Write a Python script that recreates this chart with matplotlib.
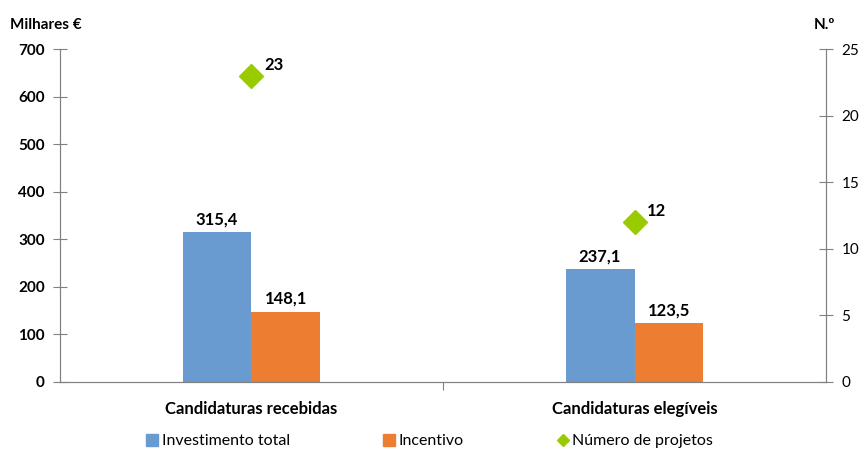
import matplotlib.pyplot as plt
import numpy as np
from matplotlib.lines import Line2D

# Data
categories = ['Candidaturas recebidas', 'Candidaturas elegíveis']
investimento = [315.4, 237.1]
incentivo = [148.1, 123.5]
projetos = [23, 12]

plt.rcParams['font.family'] = ['Lato', 'DejaVu Sans']

blue = '#6A9BD0'
orange = '#ED7D31'
green = '#99CC00'

fig = plt.figure(figsize=(8.59, 4.51), dpi=100)
ax = fig.add_axes([0.0698, 0.153, 0.8918, 0.738])
ax2 = ax.twinx()

x = np.arange(len(categories))
w = 0.18
b1 = ax.bar(x - w / 2, investimento, w, color=blue, label='Investimento total')
b2 = ax.bar(x + w / 2, incentivo, w, color=orange, label='Incentivo')
for rect, v in zip(list(b1) + list(b2), investimento + incentivo):
    ax.text(rect.get_x() + rect.get_width() / 2, v + 10, f'{v:.1f}'.replace('.', ','),
            ha='center', va='bottom', fontsize=12, fontweight='bold')

ax2.plot(x, projetos, linestyle='none', marker='D', markersize=12, color=green)
for xi, v in zip(x, projetos):
    ax2.annotate(str(v), (xi, v), xytext=(9, 2), textcoords='offset points',
                 fontsize=12, fontweight='bold', va='bottom', ha='left')

ax.set_xlim(-0.5, 1.5)
ax.set_ylim(0, 700)
ax2.set_ylim(0, 25)
ax.set_yticks(range(0, 701, 100))
ax2.set_yticks(range(0, 26, 5))

# category ticks at boundaries, labels at centers
ax.set_xticks([0.5])
ax.set_xticklabels([''])
ax.set_xticks(x, minor=True)
ax.set_xticklabels(categories, minor=True, fontsize=12, fontweight='bold')
ax.tick_params(axis='x', which='major', length=6, color='#808080', direction='out')
ax.tick_params(axis='x', which='minor', length=0, pad=14)

ax.tick_params(axis='y', direction='inout', length=10, color='#808080', labelsize=11, pad=6)
ax2.tick_params(axis='y', direction='inout', length=10, color='#808080', labelsize=11, pad=6)
for lab in ax.get_yticklabels():
    lab.set_fontweight('bold')

for a in (ax, ax2):
    a.spines['top'].set_visible(False)
    for s in ('left', 'right', 'bottom'):
        a.spines[s].set_color('#808080')

fig.text(0.012, 0.945, 'Milhares €', fontsize=11, fontweight='bold', ha='left', va='center')
fig.text(0.972, 0.945, 'N.º', fontsize=11, fontweight='bold', ha='right', va='center')

handles = [
    Line2D([], [], linestyle='none', marker='s', markersize=9, color=blue),
    Line2D([], [], linestyle='none', marker='s', markersize=9, color=orange),
    Line2D([], [], linestyle='none', marker='D', markersize=6, color=green),
]
labels = ['Investimento total', 'Incentivo', 'Número de projetos']
fig.legend(handles, labels, loc='center', bbox_to_anchor=(0.500, 0.022), ncol=3,
           frameon=False, fontsize=11.5, handletextpad=0.2, columnspacing=5.8,
           handlelength=0.8)

fig.savefig('out.png', dpi=100)
